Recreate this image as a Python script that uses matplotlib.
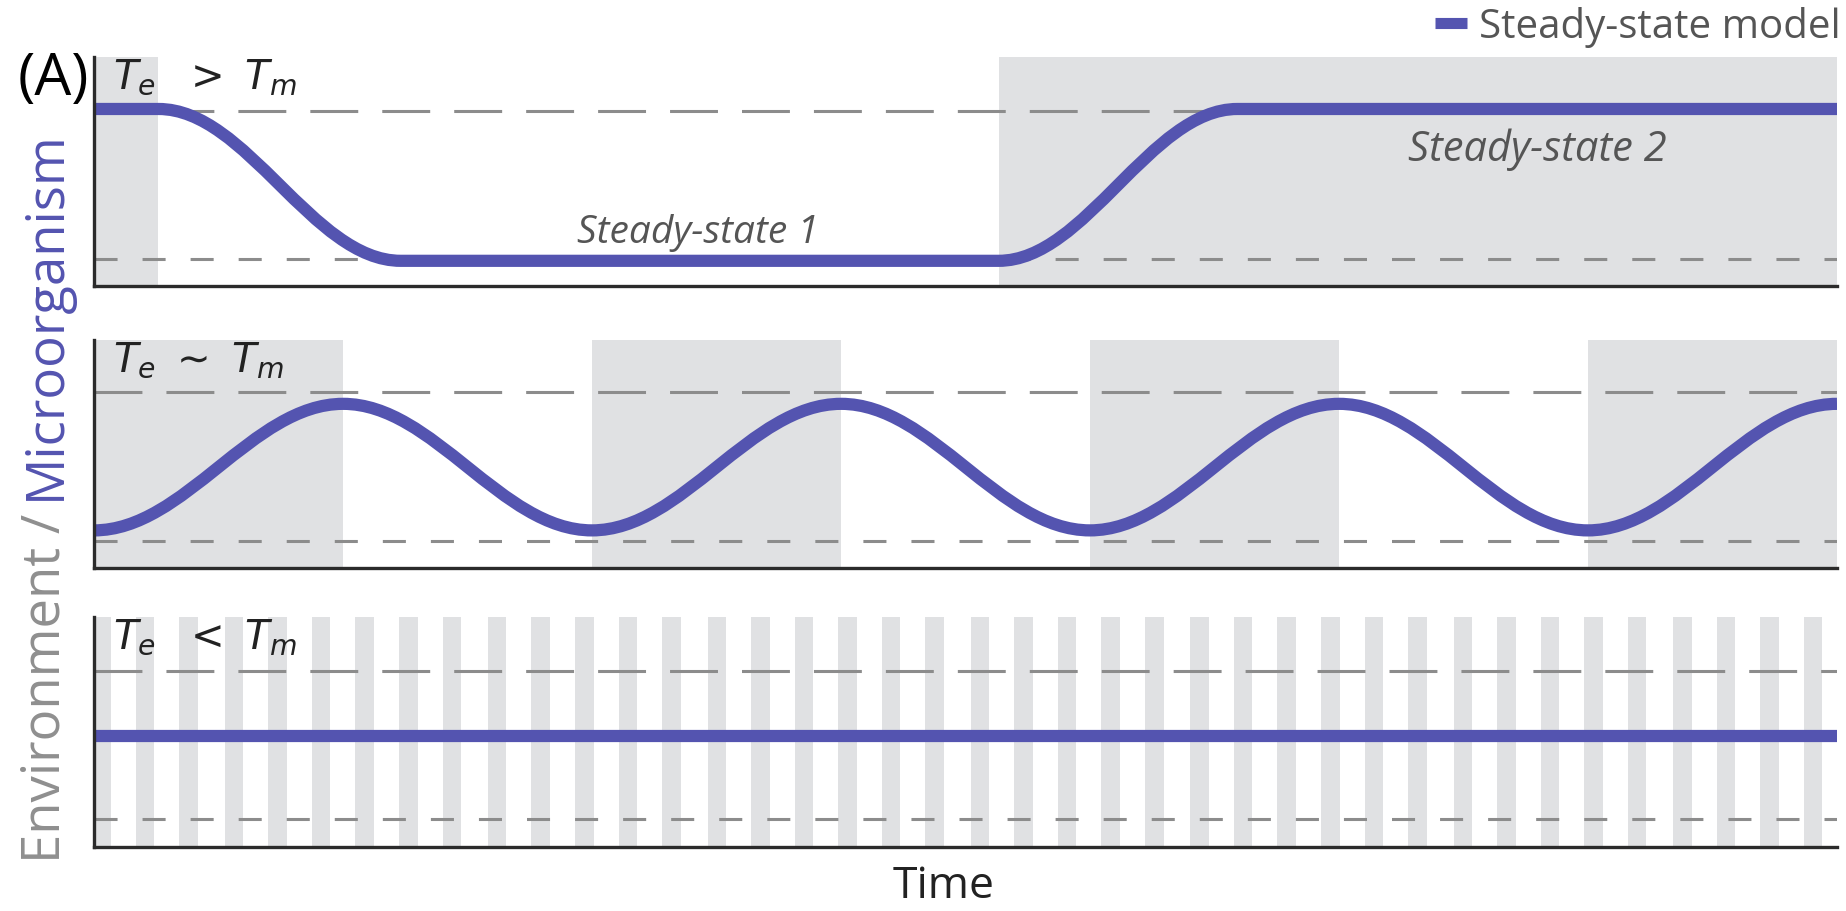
import matplotlib

matplotlib.use("Agg")
import matplotlib.pyplot as plt
from matplotlib.path import Path
from matplotlib.patches import PathPatch
from matplotlib.lines import Line2D

# ── data (time runs 0..100, response scaled 0..1) ──────────────────
# Te > Tm: one slow switch down, one slow switch back up
slow_knot_t = [0.0, 3.7, 17.6, 51.9, 65.6, 100.0]
slow_knot_y = [0.773, 0.773, 0.11, 0.11, 0.773, 0.773]
slow_shade = [(0.0, 3.7), (51.9, 100.0)]

# Te ~ Tm: response follows the environment every half period
mid_knot_t = [0.0, 14.29, 28.57, 42.86, 57.14, 71.43, 85.71, 100.0]
mid_knot_y = [0.165, 0.72, 0.165, 0.72, 0.165, 0.72, 0.165, 0.72]
mid_shade = [(0.0, 14.29), (28.57, 42.86), (57.14, 71.43), (85.71, 100.0)]

# Te < Tm: environment flickers, response stays at the mean
fast_level = 0.483
fast_shade_start = [-0.1, 2.4, 4.9, 7.5, 10.0, 12.5, 15.0, 17.5, 20.0, 22.6,
                    25.1, 27.6, 30.1, 32.6, 35.2, 37.7, 40.2, 42.7, 45.2, 47.7,
                    50.3, 52.8, 55.3, 57.8, 60.3, 62.9, 65.4, 67.9, 70.4, 72.9,
                    75.4, 78.0, 80.5, 83.0, 85.5, 88.0, 90.6, 93.1, 95.6, 98.1]
fast_shade_width = 1.06

upper_ref = [0.765, 0.772, 0.765]
lower_ref = [0.118, 0.118, 0.122]
panel_labels = [r"$T_e\ \ >\ T_m$", r"$T_e\ \sim\ T_m$", r"$T_e\ \ <\ T_m$"]

PURPLE = "#5454b0"
SHADE = "#e0e1e3"
DASH = "#8c8c8c"
SPINE = "#2b2b2b"

plt.rcParams["font.family"] = ["Open Sans", "DejaVu Sans"]
plt.rcParams["mathtext.fontset"] = "dejavusans"
plt.rcParams["lines.scale_dashes"] = False


def smooth_path(ts, ys, k=0.3642):
    # cubic segments with flat tangents at each knot
    verts = [(ts[0], ys[0])]
    codes = [Path.MOVETO]
    for t0, y0, t1, y1 in zip(ts[:-1], ys[:-1], ts[1:], ys[1:]):
        w = t1 - t0
        verts += [(t0 + k * w, y0), (t1 - k * w, y1), (t1, y1)]
        codes += [Path.CURVE4] * 3
    return Path(verts, codes)


fig = plt.figure(figsize=(18.46, 9.12), dpi=100)
W, H = 1846.0, 912.0
left, right = 94 / W, 1837 / W
panels_px = [(58, 287), (341, 569), (618, 848)]
axes = []
for top, bot in panels_px:
    ax = fig.add_axes([left, 1 - bot / H, right - left, (bot - top) / H])
    ax.set_xlim(0, 100)
    ax.set_ylim(0, 1)
    ax.set_xticks([])
    ax.set_yticks([])
    for s in ("top", "right"):
        ax.spines[s].set_visible(False)
    for s in ("left", "bottom"):
        ax.spines[s].set_color(SPINE)
        ax.spines[s].set_linewidth(2.4)
        ax.spines[s].set_zorder(6)
    axes.append(ax)

# shading (environment state)
for a, b in slow_shade:
    axes[0].axvspan(a, b, color=SHADE, lw=0, zorder=0)
for a, b in mid_shade:
    axes[1].axvspan(a, b, color=SHADE, lw=0, zorder=0)
for a in fast_shade_start:
    axes[2].axvspan(a, a + fast_shade_width, color=SHADE, lw=0, zorder=0)

# reference levels
for ax, hi, lo in zip(axes, upper_ref, lower_ref):
    ax.axhline(hi, color=DASH, lw=2.2, dashes=(34.5, 17.3), zorder=2)
    ax.axhline(lo, color=DASH, lw=2.2, dashes=(16.6, 18.0), zorder=2)

# steady-state model curves
for ax, ts, ys in ((axes[0], slow_knot_t, slow_knot_y),
                   (axes[1], mid_knot_t, mid_knot_y)):
    ax.add_patch(PathPatch(smooth_path(ts, ys), fill=False, lw=8.8,
                           edgecolor=PURPLE, capstyle="butt", zorder=4))
axes[2].axhline(fast_level, color=PURPLE, lw=8.8, solid_capstyle="butt",
                zorder=4)

for ax, lab in zip(axes, panel_labels):
    ax.text(0.011, 1.0, lab, transform=ax.transAxes, ha="left", va="top",
            fontsize=29, color="#222222", zorder=7)

axes[0].text(34.65, 0.235, "Steady-state 1", ha="center", va="center",
             fontsize=28, style="italic", color="#555555", zorder=5)
axes[0].text(82.8, 0.60, "Steady-state 2", ha="center", va="center",
             fontsize=30, style="italic", color="#555555", zorder=5)

handle = Line2D([], [], color=PURPLE, lw=8, solid_capstyle="butt")
axes[0].legend([handle], ["Steady-state model"], loc="lower right",
               bbox_to_anchor=(1.008, 1.0), frameon=False, fontsize=29,
               handlelength=0.8, handletextpad=0.3, borderaxespad=0.25,
               borderpad=0.0, labelcolor="#555555")

fig.text(18 / W, 1 - 80 / H, "(A)", ha="left", va="center", fontsize=42,
         color="black")
fig.text(944 / W, 1 - 898 / H, "Time", ha="center", va="baseline",
         fontsize=32, color="#222222")

# two-colour y label: "Environment / " in grey, "Microorganism" in purple
fig.canvas.draw()
r = fig.canvas.get_renderer()
t1 = fig.text(46 / W, 0, "Environment / ", rotation=90, ha="center",
              va="bottom", fontsize=38, color="#8f8f8f")
t2 = fig.text(46 / W, 0, "Microorganism", rotation=90, ha="center",
              va="bottom", fontsize=38, color=PURPLE)
h1 = t1.get_window_extent(r).height
h2 = t2.get_window_extent(r).height
y0 = (H - 497) - (h1 + h2) / 2
t1.set_y(y0 / H)
t2.set_y((y0 + h1) / H)

fig.savefig("out.png", dpi=100)
